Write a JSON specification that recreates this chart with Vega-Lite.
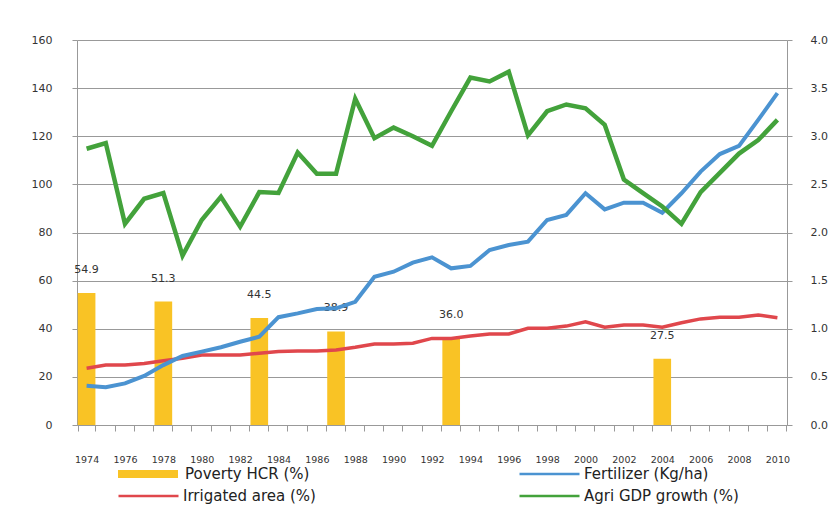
{
  "$schema": "https://vega.github.io/schema/vega-lite/v6.json",
  "width": 710,
  "height": 385,
  "autosize": {"type": "none"},
  "padding": {"left": 77, "top": 40, "right": 51, "bottom": 87},
  "background": "white",
  "config": {
    "view": {"stroke": null},
    "axis": {"labelFont": "DejaVu Sans", "labelColor": "#333333", "domainColor": "#999999", "tickColor": "#999999", "gridColor": "#999999", "titleFont": "DejaVu Sans"},
    "legend": {"labelFont": "DejaVu Sans"}
  },
  "data": {
    "values": [
      {"year": 1974, "pov": 54.9, "fert": 16.3, "irr": 23.6, "gdp": 2.87},
      {"year": 1975, "pov": null, "fert": 15.7, "irr": 24.9, "gdp": 2.93},
      {"year": 1976, "pov": null, "fert": 17.3, "irr": 24.9, "gdp": 2.09},
      {"year": 1977, "pov": null, "fert": 20.4, "irr": 25.6, "gdp": 2.35},
      {"year": 1978, "pov": 51.3, "fert": 24.9, "irr": 26.7, "gdp": 2.41},
      {"year": 1979, "pov": null, "fert": 28.7, "irr": 27.7, "gdp": 1.76},
      {"year": 1980, "pov": null, "fert": 30.5, "irr": 29.1, "gdp": 2.13},
      {"year": 1981, "pov": null, "fert": 32.3, "irr": 29.1, "gdp": 2.37},
      {"year": 1982, "pov": null, "fert": 34.6, "irr": 29.1, "gdp": 2.06},
      {"year": 1983, "pov": 44.5, "fert": 36.7, "irr": 29.8, "gdp": 2.42},
      {"year": 1984, "pov": null, "fert": 44.8, "irr": 30.5, "gdp": 2.41},
      {"year": 1985, "pov": null, "fert": 46.4, "irr": 30.8, "gdp": 2.83},
      {"year": 1986, "pov": null, "fert": 48.2, "irr": 30.8, "gdp": 2.61},
      {"year": 1987, "pov": 38.9, "fert": 48.5, "irr": 31.2, "gdp": 2.61},
      {"year": 1988, "pov": null, "fert": 51.2, "irr": 32.3, "gdp": 3.39},
      {"year": 1989, "pov": null, "fert": 61.6, "irr": 33.7, "gdp": 2.98},
      {"year": 1990, "pov": null, "fert": 63.7, "irr": 33.7, "gdp": 3.09},
      {"year": 1991, "pov": null, "fert": 67.5, "irr": 34.0, "gdp": 3.0},
      {"year": 1992, "pov": null, "fert": 69.7, "irr": 36.0, "gdp": 2.9},
      {"year": 1993, "pov": 36.0, "fert": 65.1, "irr": 36.0, "gdp": 3.26},
      {"year": 1994, "pov": null, "fert": 66.1, "irr": 37.0, "gdp": 3.61},
      {"year": 1995, "pov": null, "fert": 72.7, "irr": 37.8, "gdp": 3.57},
      {"year": 1996, "pov": null, "fert": 74.8, "irr": 37.8, "gdp": 3.67},
      {"year": 1997, "pov": null, "fert": 76.2, "irr": 40.2, "gdp": 3.01},
      {"year": 1998, "pov": null, "fert": 85.2, "irr": 40.2, "gdp": 3.26},
      {"year": 1999, "pov": null, "fert": 87.3, "irr": 41.1, "gdp": 3.33},
      {"year": 2000, "pov": null, "fert": 96.3, "irr": 42.9, "gdp": 3.29},
      {"year": 2001, "pov": null, "fert": 89.6, "irr": 40.6, "gdp": 3.12},
      {"year": 2002, "pov": null, "fert": 92.4, "irr": 41.6, "gdp": 2.55},
      {"year": 2003, "pov": null, "fert": 92.4, "irr": 41.6, "gdp": 2.41},
      {"year": 2004, "pov": 27.5, "fert": 88.2, "irr": 40.6, "gdp": 2.27},
      {"year": 2005, "pov": null, "fert": 96.3, "irr": 42.5, "gdp": 2.09},
      {"year": 2006, "pov": null, "fert": 105.3, "irr": 44.1, "gdp": 2.42},
      {"year": 2007, "pov": null, "fert": 112.6, "irr": 44.8, "gdp": 2.62},
      {"year": 2008, "pov": null, "fert": 116.0, "irr": 44.8, "gdp": 2.82},
      {"year": 2009, "pov": null, "fert": 126.8, "irr": 45.7, "gdp": 2.96},
      {"year": 2010, "pov": null, "fert": 137.9, "irr": 44.6, "gdp": 3.17}
    ]
  },
  "encoding": {
    "x": {
      "field": "year",
      "type": "ordinal",
      "title": null,
      "scale": {"paddingInner": 0.08, "paddingOuter": 0.04},
      "axis": {
        "labelAngle": 0,
        "labelFontSize": 9.5,
        "labelPadding": 23,
        "tickSize": 6,
        "tickBand": "extent",
        "labelExpr": "datum.value % 2 === 0 ? datum.label : ''",
        "labelOverlap": false,
        "grid": false
      }
    }
  },
  "layer": [
    {
      "layer": [
        {
          "transform": [{"filter": "datum.pov != null"}],
          "mark": {"type": "bar"},
          "encoding": {
            "y": {
              "field": "pov",
              "type": "quantitative",
              "title": null,
              "scale": {"domain": [0, 160]},
              "axis": {"values": [0, 20, 40, 60, 80, 100, 120, 140, 160], "labelFontSize": 11, "labelPadding": 20, "tickSize": 5, "grid": true, "gridWidth": 1.2}
            },
            "fill": {
              "datum": "Poverty HCR (%)",
              "scale": {"domain": ["Poverty HCR (%)"], "range": ["#F9C325"]},
              "legend": {
                "title": null,
                "orient": "none",
                "legendX": 41,
                "legendY": 426,
                "direction": "vertical",
                "padding": 0,
                "clipHeight": 16,
                "symbolSize": 3600,
                "symbolType": "M-1,-0.133H1V0.133H-1Z",
                "symbolStrokeWidth": 0,
                "labelFontSize": 15,
                "labelColor": "#222222",
                "labelOffset": 7
              }
            }
          }
        },
        {
          "transform": [{"filter": "datum.pov != null"}],
          "mark": {"type": "text", "dy": -23, "fontSize": 11, "font": "DejaVu Sans", "color": "#333333"},
          "encoding": {
            "y": {"field": "pov", "type": "quantitative", "title": null, "scale": {"domain": [0, 160]}},
            "text": {"field": "pov", "type": "quantitative", "format": ".1f"}
          }
        },
        {
          "mark": {"type": "line", "strokeWidth": 3.5},
          "encoding": {
            "y": {"field": "irr", "type": "quantitative", "title": null, "scale": {"domain": [0, 160]}},
            "stroke": {
              "datum": "Irrigated area (%)",
              "scale": {
                "domain": ["Poverty HCR (%)", "Irrigated area (%)", "Fertilizer (Kg/ha)", "Agri GDP growth (%)"],
                "range": ["transparent", "#E0474C", "#4B93D1", "#43A23B"]
              },
              "legend": {
                "title": null,
                "orient": "none",
                "legendX": 40,
                "legendY": 426,
                "direction": "vertical",
                "columns": 2,
                "columnPadding": 202,
                "rowPadding": 6,
                "padding": 0,
                "clipHeight": 16,
                "symbolSize": 3600,
                "symbolType": "stroke",
                "symbolStrokeWidth": 2.5,
                "labelFontSize": 15,
                "labelColor": "#222222",
                "labelOffset": 3,
                "labelExpr": "datum.label === 'Poverty HCR (%)' ? '' : datum.label"
              }
            }
          }
        },
        {
          "mark": {"type": "line", "strokeWidth": 4},
          "encoding": {
            "y": {"field": "fert", "type": "quantitative", "title": null, "scale": {"domain": [0, 160]}},
            "stroke": {"datum": "Fertilizer (Kg/ha)"}
          }
        }
      ]
    },
    {
      "mark": {"type": "line", "strokeWidth": 4.5},
      "encoding": {
        "y": {
          "field": "gdp",
          "type": "quantitative",
          "title": null,
          "scale": {"domain": [0, 4]},
          "axis": {"orient": "right", "values": [0, 0.5, 1, 1.5, 2, 2.5, 3, 3.5, 4], "format": ".1f", "labelFontSize": 11, "labelPadding": 18, "tickSize": 5, "grid": false}
        },
        "stroke": {"datum": "Agri GDP growth (%)"}
      }
    }
  ],
  "resolve": {"scale": {"y": "independent"}, "axis": {"y": "independent"}}
}
